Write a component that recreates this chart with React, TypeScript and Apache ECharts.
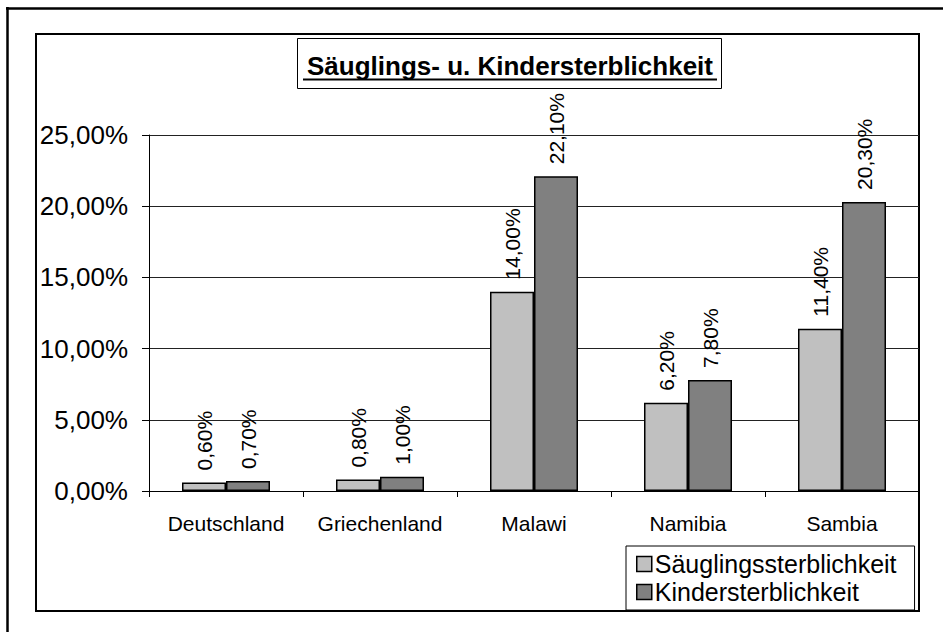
import React, { useEffect, useRef } from "react";
import * as echarts from "echarts";

const categories = ["Deutschland", "Griechenland", "Malawi", "Namibia", "Sambia"];
const saeuglings = [0.6, 0.8, 14.0, 6.2, 11.4];
const kinder = [0.7, 1.0, 22.1, 7.8, 20.3];
const seriesNames = ["Säuglingssterblichkeit", "Kindersterblichkeit"];
const titleText = "Säuglings- u. Kindersterblichkeit";

const FONT = "'Liberation Sans', Arial, sans-serif";
const fmt = (v: number) => v.toFixed(2).replace(".", ",") + "%";

export default function App() {
  const ref = useRef<HTMLDivElement>(null);
  useEffect(() => {
    if (!ref.current) return;
    const chart = echarts.init(ref.current, null, { renderer: "svg" });
    const labelCfg = {
      show: true,
      position: "top" as const,
      rotate: 90,
      align: "left",
      verticalAlign: "middle",
      distance: 12,
      fontSize: 21,
      fontFamily: FONT,
      color: "#000",
      formatter: (p: any) => fmt(p.value),
    };
    chart.setOption({
      animation: false,
      backgroundColor: "#fff",
      textStyle: { fontFamily: FONT },
      grid: { left: 149, right: 24, top: 135, bottom: 141, containLabel: false },
      xAxis: {
        type: "category",
        data: categories,
        axisLine: { lineStyle: { color: "#000", width: 1 } },
        axisTick: { show: true, length: 6, lineStyle: { color: "#000" } },
        axisLabel: { interval: 0, fontSize: 21, color: "#000", fontFamily: FONT, margin: 22 },
      },
      yAxis: {
        type: "value",
        min: 0,
        max: 25,
        interval: 5,
        axisLine: { show: true, lineStyle: { color: "#000", width: 1 } },
        axisTick: { show: true, length: 7, lineStyle: { color: "#000" } },
        splitLine: { show: true, lineStyle: { color: "#222", width: 1 } },
        axisLabel: {
          fontSize: 26,
          color: "#000",
          fontFamily: FONT,
          margin: 21,
          padding: [8, 0, 0, 0],
          formatter: (v: number) => fmt(v),
        },
      },
      legend: {
        orient: "vertical",
        left: 626,
        top: 546,
        padding: [5, 18, 5, 10],
        itemGap: 2,
        itemWidth: 15,
        itemHeight: 15,
        borderColor: "#000",
        borderWidth: 1,
        backgroundColor: "#fff",
        icon: "rect",
        textStyle: { fontSize: 25, lineHeight: 26, color: "#000", fontFamily: FONT, padding: [0, 0, 0, -2] },
        itemStyle: { borderColor: "#000", borderWidth: 1.5 },
        data: seriesNames,
      },
      graphic: [
        {
          type: "line",
          shape: { x1: 6, y1: 8.5, x2: 943, y2: 8.5 },
          style: { stroke: "#000", lineWidth: 2.5 },
          silent: true,
          z: -10,
        },
        {
          type: "line",
          shape: { x1: 7.5, y1: 7, x2: 7.5, y2: 632 },
          style: { stroke: "#000", lineWidth: 2.5 },
          silent: true,
          z: -10,
        },
        {
          type: "rect",
          shape: { x: 36, y: 34, width: 883, height: 577 },
          style: { fill: "none", stroke: "#000", lineWidth: 2 },
          silent: true,
          z: -10,
        },
        {
          type: "rect",
          shape: { x: 297.5, y: 38.5, width: 424, height: 50 },
          style: { fill: "#fff", stroke: "#000", lineWidth: 1 },
          silent: true,
          z: 10,
        },
        {
          type: "text",
          x: 510,
          y: 66,
          style: {
            text: titleText,
            fontSize: 26,
            fontWeight: "bold",
            fontFamily: FONT,
            fill: "#000",
            align: "center",
            verticalAlign: "middle",
          },
          silent: true,
          z: 11,
        },
        {
          type: "line",
          shape: { x1: 303, y1: 79.5, x2: 717, y2: 79.5 },
          style: { stroke: "#000", lineWidth: 2 },
          silent: true,
          z: 11,
        },
      ],
      series: [
        {
          name: seriesNames[0],
          type: "bar",
          data: saeuglings,
          barWidth: 44,
          barGap: "0%",
          itemStyle: { color: "#c0c0c0", borderColor: "#000", borderWidth: 1.5 },
          label: labelCfg,
        },
        {
          name: seriesNames[1],
          type: "bar",
          data: kinder,
          barWidth: 44,
          barGap: "0%",
          itemStyle: { color: "#808080", borderColor: "#000", borderWidth: 1.5 },
          label: labelCfg,
        },
      ],
    });
    return () => chart.dispose();
  }, []);
  return (
    <div
      ref={ref}
      style={{ position: "fixed", left: 0, top: 0, width: 943, height: 632 }}
    />
  );
}
